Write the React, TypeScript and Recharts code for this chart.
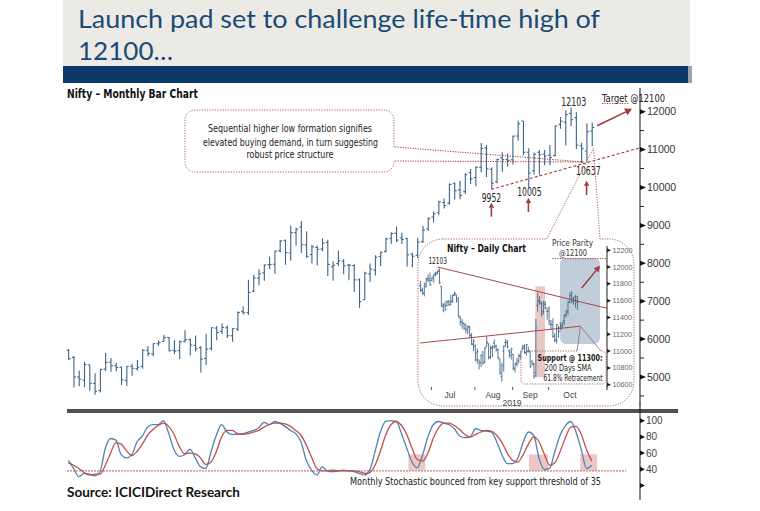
import React from 'react';
import { ComposedChart, Bar, Line, XAxis, YAxis, ReferenceLine, ReferenceArea, ReferenceDot } from 'recharts';

const NARROW = "'Liberation Sans Narrow','Arial Narrow','DejaVu Sans Condensed',sans-serif";
const SANS = "'Liberation Sans',Arial,sans-serif";
const TITLE_FONT = "Lato,'Open Sans',sans-serif";

const BAR_BLUE = '#3A6587';
const DAY_BLUE = '#42698C';
const RED = '#A5393B';
const DOT_RED = '#B06060';
const K_BLUE = '#4E84B2';
const D_RED = '#C0504D';

// ---------- Monthly Nifty, Jul 2011 .. Oct 2019 ----------
const MONTH_NAMES = ['Jan','Feb','Mar','Apr','May','Jun','Jul','Aug','Sep','Oct','Nov','Dec'];
const monthLabels: string[] = [];
for (let n = 0; n < 100; n++) {
  const mm = (6 + n) % 12;
  const yy = 2011 + Math.floor((6 + n) / 12);
  monthLabels.push(MONTH_NAMES[mm] + '-' + String(yy).slice(2));
}

const mOpen = [
  5705, 5516, 5001, 4917, 5318, 4830,
  4640, 5211, 5391, 5296, 5257, 4910, 5282, 5220, 5276, 5704, 5609, 5878,
  5937, 6040, 5702, 5697, 5941, 5987, 5834, 5776, 5486, 5756, 6289, 6201,
  6301, 6086, 6265, 6725, 6698, 7264, 7611, 7747, 7967, 7975, 8329, 8605,
  8272, 8807, 8953, 8483, 8230, 8417, 8376, 8550, 7908, 7992, 8054, 7954,
  7938, 7564, 7038, 7719, 7822, 8179, 8313, 8654, 8793, 8666, 8654, 8244,
  8210, 8570, 8904, 9221, 9339, 9604, 9587, 10101, 9937, 9893, 10390, 10263,
  10532, 11045, 10479, 10151, 10783, 10738, 10732, 11359, 11751, 10930, 10441, 10930,
  10881, 10851, 10842, 11665, 11726, 11954, 11840, 11102, 10961, 11491,
];
const mHigh = [
  5740, 5551, 5169, 5399, 5326, 5099,
  5217, 5630, 5499, 5379, 5279, 5286, 5349, 5448, 5735, 5815, 5885, 5965,
  6112, 6053, 5971, 5963, 6230, 6011, 6093, 5808, 6142, 6309, 6343, 6415,
  6358, 6282, 6730, 6869, 7563, 7700, 7840, 7968, 8180, 8331, 8617, 8627,
  8996, 8941, 9119, 8844, 8489, 8467, 8655, 8621, 8055, 8336, 8116, 7979,
  7973, 7600, 7777, 7992, 8213, 8308, 8674, 8819, 8969, 8807, 8670, 8275,
  8672, 8982, 9218, 9367, 9649, 9709, 10114, 10138, 10179, 10384, 10490, 10552,
  11172, 11118, 10525, 10759, 10930, 10894, 11366, 11760, 11752, 11035, 10922, 10985,
  10987, 11118, 11630, 11857, 12041, 12103, 11982, 11182, 11695, 11714,
];
const mLow = [
  5453, 4720, 4758, 4728, 4639, 4531,
  4588, 5159, 5135, 5154, 4789, 4770, 5032, 5164, 5215, 5548, 5548, 5823,
  5935, 5671, 5604, 5477, 5910, 5566, 5675, 5119, 5318, 5700, 5972, 6130,
  6027, 5933, 6212, 6650, 6638, 7239, 7422, 7540, 7841, 7723, 8290, 7961,
  8065, 8470, 8269, 8145, 7997, 7940, 8315, 7667, 7540, 7930, 7714, 7551,
  7241, 6825, 7035, 7516, 7678, 7927, 8287, 8518, 8555, 8506, 7916, 7894,
  8133, 8538, 8860, 9075, 9269, 9448, 9543, 9686, 9687, 9831, 10094, 10033,
  10404, 10277, 9952, 10111, 10418, 10551, 10605, 11234, 10850, 10005, 10342, 10334,
  10584, 10586, 10817, 11549, 11108, 11625, 11010, 10637, 10670, 11090,
];
const mClose = [
  5482, 5001, 4943, 5326, 4832, 4624,
  5199, 5385, 5296, 5248, 4924, 5279, 5230, 5259, 5703, 5620, 5880, 5905,
  6035, 5693, 5683, 5930, 5986, 5842, 5742, 5471, 5735, 6299, 6176, 6304,
  6089, 6277, 6704, 6696, 7230, 7611, 7721, 7954, 7965, 8322, 8588, 8283,
  8809, 8901, 8491, 8182, 8434, 8368, 8533, 7971, 7948, 8066, 7935, 7946,
  7563, 6987, 7738, 7850, 8160, 8288, 8639, 8786, 8611, 8626, 8224, 8186,
  8561, 8880, 9174, 9304, 9621, 9521, 10077, 9918, 9789, 10335, 10227, 10531,
  11028, 10493, 10114, 10739, 10736, 10714, 11357, 11681, 10930, 10387, 10877, 10863,
  10831, 10793, 11624, 11748, 11923, 11789, 11118, 11023, 11474, 11584,
];

// Monthly stochastic (%K blue, %D red)
const stochK = [
  51, 41, 31, 35, 34, 32, 37, 66, 78, 76,
  58, 54, 58, 74, 81, 92, 95, 95, 100, 84,
  64, 56, 58, 65, 54, 43, 41, 62, 82, 95,
  86, 83, 83, 84, 86, 88, 91, 98, 95, 99,
  97, 93, 88, 84, 74, 51, 39, 33, 43, 38,
  37, 38, 39, 38, 37, 35, 33, 39, 62, 86,
  99, 100, 99, 84, 66, 49, 42, 58, 80, 95,
  99, 97, 95, 90, 81, 79, 80, 90, 88, 87,
  86, 74, 58, 47, 47, 54, 73, 86, 82, 54,
  40, 41, 62, 82, 94, 99, 86, 64, 41, 45,
];
const stochD = [
  48, 45, 41, 36, 33, 34, 34, 45, 60, 73,
  71, 63, 57, 62, 71, 82, 89, 94, 97, 93,
  83, 68, 59, 60, 59, 54, 46, 49, 62, 80,
  88, 88, 84, 83, 84, 86, 88, 92, 95, 97,
  97, 96, 93, 88, 82, 70, 55, 41, 38, 38,
  39, 38, 38, 38, 38, 37, 35, 36, 45, 62,
  82, 95, 99, 94, 83, 66, 52, 50, 60, 78,
  91, 97, 97, 94, 89, 83, 80, 83, 86, 88,
  87, 82, 73, 60, 51, 49, 58, 71, 80, 74,
  59, 45, 48, 62, 79, 92, 93, 83, 64, 50,
];

const monthly = monthLabels.map((m, i) => ({
  i, m, o: mOpen[i], h: mHigh[i], l: mLow[i], c: mClose[i],
  range: [mLow[i], mHigh[i]], k: stochK[i], d: stochD[i],
}));

// ---------- Daily Nifty, 21 Jun .. 25 Oct 2019 ----------
const dayLabels = [
  '21 Jun','24 Jun','25 Jun','26 Jun','27 Jun','28 Jun',
  '1 Jul','2 Jul','3 Jul','4 Jul','5 Jul','8 Jul','9 Jul','10 Jul','11 Jul','12 Jul','15 Jul','16 Jul','17 Jul','18 Jul','19 Jul','22 Jul','23 Jul','24 Jul','25 Jul','26 Jul','29 Jul','30 Jul','31 Jul',
  '1 Aug','2 Aug','5 Aug','6 Aug','7 Aug','8 Aug','9 Aug','13 Aug','14 Aug','16 Aug','19 Aug','20 Aug','21 Aug','22 Aug','23 Aug','26 Aug','27 Aug','28 Aug','29 Aug','30 Aug',
  '3 Sep','4 Sep','5 Sep','6 Sep','9 Sep','11 Sep','12 Sep','13 Sep','16 Sep','17 Sep','18 Sep','19 Sep','20 Sep','23 Sep','24 Sep','25 Sep','26 Sep','27 Sep','30 Sep',
  '1 Oct','3 Oct','4 Oct','7 Oct','9 Oct','10 Oct','11 Oct','14 Oct','15 Oct','16 Oct','17 Oct','18 Oct','22 Oct','23 Oct','24 Oct','25 Oct',
];
const dOpen = [
  11780, 11725, 11681, 11768, 11860, 11861,
  11839, 11890, 11929, 11928, 11964, 11770, 11532, 11536, 11539, 11593, 11588, 11596, 11670, 11668, 11627, 11392, 11347, 11328, 11313, 11259, 11291, 11183, 11079,
  11060, 10895, 10895, 10864, 10990, 10867, 11051, 11090, 10925, 11044, 11095, 11063, 11010, 10905, 10699, 11000, 11101, 11101, 11003, 10987,
  10960, 10790, 10860, 10883, 10936, 11028, 11058, 10986, 10994, 10995, 10872, 10845, 10746, 11542, 11590, 11565, 11469, 11556, 11474,
  11515, 11322, 11316, 11180, 11139, 11271, 11274, 11289, 11364, 11428, 11465, 11580, 11657, 11631, 11646, 11646,
];
const dHigh = [
  11836, 11755, 11814, 11872, 11911, 11932,
  11884, 11917, 11945, 11961, 11981, 11771, 11570, 11594, 11604, 11606, 11670, 11671, 11707, 11672, 11640, 11419, 11382, 11341, 11329, 11305, 11302, 11215, 11143,
  11080, 11029, 10895, 10965, 10996, 11044, 11181, 11092, 11062, 11068, 11138, 11073, 11034, 10908, 10862, 11070, 11142, 11130, 11022, 11042,
  10967, 10860, 10920, 10971, 11004, 11074, 11082, 11084, 11052, 11000, 10895, 10865, 11382, 11694, 11655, 11586, 11597, 11593, 11508,
  11530, 11370, 11390, 11215, 11323, 11298, 11343, 11346, 11438, 11493, 11597, 11700, 11714, 11645, 11669, 11646,
];
const dLow = [
  11700, 11670, 11651, 11757, 11821, 11775,
  11830, 11814, 11887, 11912, 11797, 11523, 11461, 11475, 11533, 11537, 11541, 11573, 11657, 11577, 11399, 11303, 11265, 11249, 11210, 11202, 11152, 11071, 10999,
  10881, 10849, 10782, 10813, 10838, 10858, 11049, 10901, 10908, 10924, 11028, 10994, 10903, 10718, 10637, 10756, 11049, 11033, 10922, 10898,
  10771, 10746, 10816, 10859, 10901, 11015, 10969, 10945, 10981, 10796, 10831, 10670, 10691, 11471, 11550, 11412, 11439, 11498, 11374,
  11310, 11255, 11158, 11104, 11090, 11161, 11247, 11263, 11305, 11398, 11426, 11568, 11568, 11550, 11515, 11490,
];
const dClose = [
  11724, 11699, 11796, 11847, 11842, 11789,
  11865, 11910, 11916, 11946, 11811, 11558, 11555, 11498, 11582, 11552, 11588, 11663, 11687, 11596, 11419, 11346, 11332, 11271, 11252, 11284, 11189, 11085, 11118,
  10980, 10997, 10863, 10948, 10856, 11032, 11110, 10926, 11029, 11048, 11053, 11017, 10919, 10741, 10829, 11058, 11106, 11046, 10948, 11023,
  10797, 10845, 10848, 10946, 11003, 11035, 10982, 11076, 11003, 10818, 10840, 10705, 11274, 11600, 11588, 11441, 11571, 11512, 11474,
  11359, 11314, 11174, 11126, 11313, 11235, 11305, 11341, 11428, 11464, 11586, 11662, 11588, 11604, 11582, 11584,
];
const daily = dayLabels.map((dl, j) => ({
  j, dl, o: dOpen[j], h: dHigh[j], l: dLow[j], c: dClose[j], range: [dLow[j], dHigh[j]],
}));

// axis tick values
const mainTicks = [4500, 5000, 5500, 6000, 6500, 7000, 7500, 8000, 8500, 9000, 9500, 10000, 10500, 11000, 11500, 12000];
const stochTicks = [20, 40, 60, 80, 100];
const insetYTicks = [10600, 10800, 11000, 11200, 11400, 11600, 11800, 12000, 12200];
const insetMonthNames = ['Jul', 'Aug', 'Sep', 'Oct'];
const insetMonthMid = [15.3, 38.1, 57.7, 78.8];
const insetMonthEdges = [5.5, 28.5, 48.5, 67.5];

// ---------- shapes ----------
const makeOHLC = (color: string, tick: number, sw: number) => (props: any) => {
  const { x, y, width, height, payload } = props;
  if (!payload || x == null || y == null) return <g />;
  const top = Math.min(y, y + height);
  const bot = Math.max(y, y + height);
  const span = payload.h - payload.l || 1;
  const yOf = (v: number) => top + ((payload.h - v) / span) * (bot - top);
  const cx = x + width / 2;
  return (
    <g stroke={color} strokeWidth={sw}>
      <line x1={cx} x2={cx} y1={top} y2={bot} />
      <line x1={cx - tick} x2={cx} y1={yOf(payload.o)} y2={yOf(payload.o)} />
      <line x1={cx} x2={cx + tick} y1={yOf(payload.c)} y2={yOf(payload.c)} />
    </g>
  );
};

const arrowShape = (color: string, sw: number, head: number) => (p: any) => {
  const { x1, y1, x2, y2 } = p;
  if ([x1, y1, x2, y2].some((v) => v == null || isNaN(v))) return <g />;
  const a = Math.atan2(y2 - y1, x2 - x1);
  const bx = x2 - head * Math.cos(a);
  const by = y2 - head * Math.sin(a);
  const w = head * 0.55;
  const nx = -Math.sin(a) * w;
  const ny = Math.cos(a) * w;
  return (
    <g>
      <line x1={x1} y1={y1} x2={bx} y2={by} stroke={color} strokeWidth={sw} />
      <polygon points={`${x2},${y2} ${bx + nx},${by + ny} ${bx - nx},${by - ny}`} fill={color} />
    </g>
  );
};

const roundedArea = (fill: string, opacity: number, r: number) => (p: any) => (
  <rect x={p.x} y={p.y} width={p.width} height={p.height} rx={r} ry={r} fill={fill} fillOpacity={opacity} />
);

const labelShape = (text: string, dx: number, dy: number, size: number, width: number) => (p: any) => (
  <text x={p.cx + dx} y={p.cy + dy} textAnchor="middle" fontFamily={NARROW} fontSize={size} fill="#222"
    textLength={width} lengthAdjust="spacingAndGlyphs">{text}</text>
);

const MainTick = (p: any) => {
  const { x, y, payload } = p;
  const v = payload.value;
  if (v % 1000 !== 0) return <line x1={x} x2={x + 4} y1={y} y2={y} stroke="#222" strokeWidth={1} />;
  return (
    <g>
      <polygon points={`${x},${y - 2.5} ${x + 6},${y} ${x},${y + 2.5}`} fill="#111" />
      <text x={x + 7} y={y} dy="0.36em" fontSize={10.5} fill="#333" fontFamily={SANS}>{v}</text>
    </g>
  );
};

const StochTick = (p: any) => {
  const { x, y, payload } = p;
  const v = payload.value;
  return (
    <g>
      <polygon points={`${x},${y - 2.5} ${x + 5},${y} ${x},${y + 2.5}`} fill="#111" />
      {v !== 20 && <text x={x + 6} y={y} dy="0.36em" fontSize={10} fill="#444" fontFamily={SANS}>{v}</text>}
    </g>
  );
};

const InsetYTick = (p: any) => {
  const { x, y, payload } = p;
  return (
    <g>
      <polygon points={`${x},${y - 2} ${x + 4},${y} ${x},${y + 2}`} fill="#222" />
      <text x={x + 5.5} y={y} dy="0.36em" fontSize={7.2} fill="#666" fontFamily={SANS}>{payload.value}</text>
    </g>
  );
};

const InsetXTick = (p: any) => {
  const { x, y, payload } = p;
  const idx = insetMonthMid.indexOf(payload.value);
  if (idx >= 0) {
    return <text x={x} y={y + 7.5} textAnchor="middle" fontSize={8.5} fill="#444" fontFamily={SANS}>{insetMonthNames[idx]}</text>;
  }
  return <line x1={x} x2={x} y1={y - 3} y2={y} stroke="#555" />;
};

const insetXTicks = [...insetMonthEdges, ...insetMonthMid].sort((a, b) => a - b);

export default function App() {
  return (
    <div style={{ position: 'absolute', left: 0, top: 0, width: 760, height: 511, background: '#fff', overflow: 'hidden' }}>
      {/* title banner */}
      <div style={{ position: 'absolute', left: 63, top: 0, width: 627, height: 66, background: '#ECEAE5' }} />
      <div style={{ position: 'absolute', left: 63, top: 66, width: 627, height: 17, background: '#0D3B69' }} />
      <div style={{ position: 'absolute', left: 688, top: 66, width: 4, height: 17, background: '#9AA3AD' }} />

      {/* main monthly chart */}
      <div style={{ position: 'absolute', left: 0, top: 0 }}>
        <ComposedChart width={760} height={420} data={monthly} margin={{ top: 88, right: 60, bottom: 15, left: 63 }}>
          <XAxis dataKey="i" type="number" domain={[-1, 108.1]} allowDataOverflow hide />
          <YAxis orientation="right" width={60} domain={[4261, 12625]} allowDataOverflow ticks={mainTicks}
            interval={0} tick={(p: any) => <MainTick {...p} />} tickLine={false} tickSize={0} tickMargin={0}
            axisLine={{ stroke: '#111', strokeWidth: 1 }} />
          <Bar dataKey="range" barSize={4} shape={makeOHLC(BAR_BLUE, 2, 1.1)} isAnimationActive={false} />
          {/* higher-low trend line */}
          <ReferenceLine segment={[{ x: 80, y: 9952 }, { x: 107.9, y: 11040 }]} stroke={RED} strokeWidth={1.1}
            strokeDasharray="3 2" ifOverflow="visible" />
          {/* callout connector lines */}
          <ReferenceLine segment={[{ x: 61.8, y: 11069 }, { x: 97.4, y: 10673 }]} stroke={RED} strokeWidth={1}
            strokeDasharray="1.2 1.3" ifOverflow="visible" />
          <ReferenceLine segment={[{ x: 61.8, y: 10699 }, { x: 97.4, y: 10673 }]} stroke={RED} strokeWidth={1}
            strokeDasharray="1.2 1.3" ifOverflow="visible" />
          {/* target arrow */}
          <ReferenceLine segment={[{ x: 100, y: 11630 }, { x: 106.6, y: 12075 }]} ifOverflow="visible"
            shape={arrowShape(RED, 1.6, 7)} />
          {/* up arrows under lows */}
          <ReferenceLine segment={[{ x: 80, y: 9230 }, { x: 80, y: 9600 }]} ifOverflow="visible" shape={arrowShape(RED, 1.6, 5)} />
          <ReferenceLine segment={[{ x: 87, y: 9354 }, { x: 87, y: 9724 }]} ifOverflow="visible" shape={arrowShape(RED, 1.6, 5)} />
          <ReferenceLine segment={[{ x: 98, y: 9802 }, { x: 98, y: 10180 }]} ifOverflow="visible" shape={arrowShape(RED, 1.6, 5)} />
          {/* value labels */}
          <ReferenceDot x={95} y={12103} r={2} ifOverflow="visible" shape={labelShape('12103', 3, -2, 11.5, 25)} />
          <ReferenceDot x={80} y={9952} r={2} ifOverflow="visible" shape={labelShape('9952', 0, 12.7, 11.5, 19.5)} />
          <ReferenceDot x={87} y={10005} r={2} ifOverflow="visible" shape={labelShape('10005', 1, 9, 11.5, 24.5)} />
          <ReferenceDot x={97} y={10637} r={2} ifOverflow="visible" shape={labelShape('10637', 7, 11.8, 11.5, 24.5)} />
        </ComposedChart>
      </div>

      {/* stochastic panel */}
      <div style={{ position: 'absolute', left: 0, top: 405 }}>
        <ComposedChart width={760} height={100} data={monthly} margin={{ top: 7, right: 60, bottom: 5, left: 63 }}>
          <XAxis dataKey="i" type="number" domain={[-1, 108.1]} allowDataOverflow hide />
          <YAxis orientation="right" width={60} domain={[2.1, 110.7]} allowDataOverflow ticks={stochTicks}
            interval={0} tick={(p: any) => <StochTick {...p} />} tickLine={false} tickSize={0} tickMargin={0}
            axisLine={{ stroke: '#111', strokeWidth: 1 }} />
          <ReferenceArea x1={64.3} x2={67.5} y1={38.5} y2={58.5} fill="#E3AFAF" fillOpacity={0.7} stroke="none" />
          <ReferenceArea x1={87.1} x2={90.7} y1={38.5} y2={58.5} fill="#E3AFAF" fillOpacity={0.7} stroke="none" />
          <ReferenceArea x1={96.8} x2={100} y1={38.5} y2={58.5} fill="#E3AFAF" fillOpacity={0.7} stroke="none" />
          <ReferenceLine segment={[{ x: -0.2, y: 38 }, { x: 105.5, y: 38 }]} stroke={D_RED} strokeWidth={1.1}
            strokeDasharray="1.5 1.5" ifOverflow="visible" />
          <Line dataKey="k" type="monotone" stroke={K_BLUE} strokeWidth={1.3} dot={false} isAnimationActive={false} />
          <Line dataKey="d" type="monotone" stroke={D_RED} strokeWidth={1.3} dot={false} isAnimationActive={false} />
        </ComposedChart>
      </div>

      {/* inset daily chart */}
      <div style={{ position: 'absolute', left: 0, top: 0 }}>
        <ComposedChart width={760} height={511} data={daily} margin={{ top: 246, right: 113, bottom: 101, left: 419 }}>
          <XAxis dataKey="j" type="number" domain={[-1.06, 98.41]} allowDataOverflow ticks={insetXTicks} interval={0}
            tick={(p: any) => <InsetXTick {...p} />} tickLine={false} axisLine={false} height={20} tickSize={0} tickMargin={0} />
          <YAxis orientation="right" width={40} domain={[10537, 12250]} allowDataOverflow ticks={insetYTicks} interval={0}
            tick={(p: any) => <InsetYTick {...p} />} tickLine={false} tickSize={0} tickMargin={0}
            axisLine={{ stroke: '#222', strokeWidth: 1 }} />
          <ReferenceArea x1={73.5} x2={94.7} y1={11083} y2={12107} ifOverflow="visible" shape={roundedArea('#B7C4D4', 0.85, 6)} />
          <ReferenceArea x1={60.5} x2={65.6} y1={10690} y2={11770} ifOverflow="visible" shape={roundedArea('#E7C3C0', 0.9, 1)} />
          <ReferenceLine segment={[{ x: -0.5, y: 11096 }, { x: 84.4, y: 11296 }]} stroke="#A84848" strokeWidth={1} ifOverflow="visible" />
          <Bar dataKey="range" barSize={1} shape={makeOHLC(DAY_BLUE, 1.4, 0.9)} isAnimationActive={false} />
          <ReferenceLine segment={[{ x: 8.8, y: 12000 }, { x: 98.4, y: 11509 }]} stroke="#A84848" strokeWidth={1} ifOverflow="visible" />
          <ReferenceLine segment={[{ x: 69.5, y: 12100 }, { x: 98, y: 12100 }]} stroke={RED} strokeWidth={1}
            strokeDasharray="1.2 1.3" ifOverflow="visible" />
          <ReferenceLine segment={[{ x: 85, y: 11750 }, { x: 94.7, y: 12015 }]} ifOverflow="visible" shape={arrowShape(RED, 1.5, 6)} />
          <ReferenceDot x={8.8} y={11981} r={2} ifOverflow="visible" shape={labelShape('12103', 0, -4.6, 8.8, 18.5)} />
        </ComposedChart>
      </div>

      {/* overlay: titles, callouts and notes */}
      <svg width={760} height={511} style={{ position: 'absolute', left: 0, top: 0, pointerEvents: 'none' }}>
        <text x={78} y={27.5} fontFamily={TITLE_FONT} fontSize={25.5} fill="#1A4A76" textLength={522} lengthAdjust="spacingAndGlyphs">
          Launch pad set to challenge life-time high of
        </text>
        <text x={78} y={60} fontFamily={TITLE_FONT} fontSize={25.5} fill="#1A4A76" textLength={95} lengthAdjust="spacingAndGlyphs">
          12100…
        </text>

        <text x={67} y={97.5} fontFamily={NARROW} fontWeight="bold" fontSize={12} fill="#111" textLength={131} lengthAdjust="spacingAndGlyphs">
          Nifty – Monthly Bar Chart
        </text>

        {/* callout box */}
        <path d="M 394 147 V 120 A 10 10 0 0 0 384 110 H 195 A 10 10 0 0 0 185 120 V 162 A 10 10 0 0 0 195 172 H 384 A 10 10 0 0 0 394 162 V 161"
          fill="none" stroke={DOT_RED} strokeWidth={1} strokeDasharray="1.2 1.4" />
        <g fontFamily={NARROW} fontSize={10.5} fill="#222" textAnchor="middle">
          <text x={290} y={131.5} textLength={164} lengthAdjust="spacingAndGlyphs">Sequential higher low formation signifies</text>
          <text x={290.5} y={145.5} textLength={175} lengthAdjust="spacingAndGlyphs">elevated buying demand, in turn suggesting</text>
          <text x={290} y={158} textLength={87} lengthAdjust="spacingAndGlyphs">robust price structure</text>
        </g>

        {/* target label */}
        <text x={602} y={101.5} fontFamily={NARROW} fontSize={10.5} fill="#222" textLength={63} lengthAdjust="spacingAndGlyphs">Target @12100</text>
        <line x1={602} x2={629} y1={103.5} y2={103.5} stroke={RED} strokeWidth={1} strokeDasharray="1.2 1.3" />

        {/* inset outline with pointer */}
        <path d="M 443 239 H 546.7 L 593.5 148 L 600 239 H 609 A 25 25 0 0 1 634 264 V 381 A 25 25 0 0 1 609 406 H 443 A 25 25 0 0 1 418 381 V 264 A 25 25 0 0 1 443 239 Z"
          fill="none" stroke={DOT_RED} strokeWidth={1} strokeDasharray="1.2 1.4" />
        <text x={447} y={252} fontFamily={NARROW} fontWeight="bold" fontSize={11} fill="#111" textLength={79} lengthAdjust="spacingAndGlyphs">
          Nifty – Daily Chart
        </text>
        <g fontFamily={NARROW} fontSize={8.6} fill="#333" textAnchor="middle">
          <text x={572.5} y={246} textLength={41} lengthAdjust="spacingAndGlyphs">Price Parity</text>
          <text x={573} y={256} textLength={28} lengthAdjust="spacingAndGlyphs">@12100</text>
        </g>

        {/* support callout */}
        <path d="M 577 351 H 525 A 4 4 0 0 0 521 355 V 380 A 4 4 0 0 0 525 384 H 602 A 4 4 0 0 0 606 380 V 355 A 4 4 0 0 0 602 351 H 601"
          fill="none" stroke={DOT_RED} strokeWidth={1} strokeDasharray="1.2 1.4" />
        <polyline points="577,351 580.5,326.5 601,351" fill="none" stroke="#8A7A7A" strokeWidth={0.9} />
        <g fontFamily={NARROW} fill="#1A1A1A" textAnchor="middle">
          <text x={570} y={360.5} fontSize={8.4} fontWeight="bold" textLength={65} lengthAdjust="spacingAndGlyphs">Support @ 11300:</text>
          <text x={568} y={370.5} fontSize={8.4} textLength={47} lengthAdjust="spacingAndGlyphs">200 Days SMA</text>
          <text x={573} y={380.5} fontSize={8.4} textLength={59} lengthAdjust="spacingAndGlyphs">61.8% Retracement</text>
        </g>
        <text x={512} y={405.5} fontFamily={SANS} fontSize={8.6} fill="#444" textAnchor="middle">2019</text>

        {/* panel separator */}
        <rect x={67} y={409} width={611} height={4} fill="#505050" />
        <line x1={640} x2={640} y1={404} y2={413} stroke="#111" strokeWidth={1} />

        <text x={350} y={484.5} fontFamily={NARROW} fontSize={10.5} fill="#222" textLength={251} lengthAdjust="spacingAndGlyphs">
          Monthly Stochastic bounced from key support threshold of 35
        </text>
        <text x={67} y={497} fontFamily={TITLE_FONT} fontWeight="bold" fontSize={13} fill="#111" textLength={173} lengthAdjust="spacingAndGlyphs">
          Source: ICICIDirect Research
        </text>
      </svg>
    </div>
  );
}
